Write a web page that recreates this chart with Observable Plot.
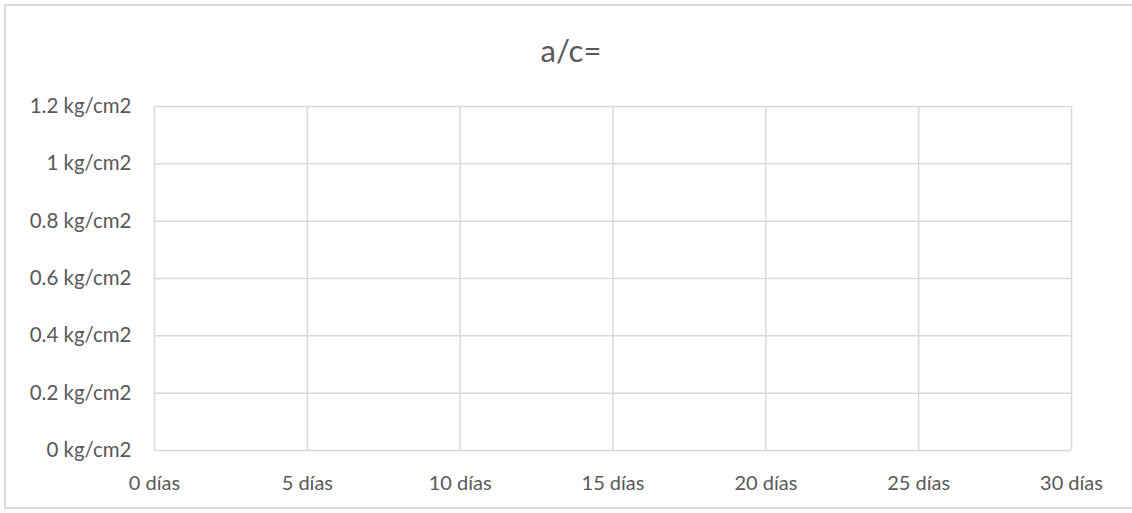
<!DOCTYPE html>
<html>
<head>
<meta charset="utf-8">
<script src="https://cdn.jsdelivr.net/npm/d3@7"></script>
<script src="https://cdn.jsdelivr.net/npm/@observablehq/plot@0.6"></script>
<style>
  html, body { margin: 0; padding: 0; background: #fff; overflow: hidden; }
  #wrap { position: relative; width: 1132px; height: 513px; overflow: hidden; }
  #frame { position: absolute; left: 4px; top: 4px; width: 1200px; height: 505px; border: 2px solid #d9d9d9; border-right: none; pointer-events: none; box-sizing: border-box; }
  svg { display: block; }
</style>
</head>
<body>
<div id="wrap"><div id="frame"></div></div>
<script>
const title = "a/c=";
const xTicks = [0, 5, 10, 15, 20, 25, 30];
const yTicks = [0, 0.2, 0.4, 0.6, 0.8, 1, 1.2];
const xUnit = "días";
const yUnit = "kg/cm2";

const grid = "#d9d9d9";
const textColor = "#595959";

const chart = Plot.plot({
  width: 1132,
  height: 513,
  marginLeft: 154,
  marginRight: 61,
  marginTop: 106,
  marginBottom: 63,
  style: { fontFamily: "Lato, 'Open Sans', sans-serif", fontSize: "20px", color: textColor, background: "transparent" },
  x: { domain: [0, 30], ticks: xTicks, tickFormat: d => `${d} ${xUnit}`, tickSize: 0, tickPadding: 25, label: null },
  y: { domain: [0, 1.2], ticks: yTicks, tickFormat: d => `${d} ${yUnit}`, tickSize: 0, tickPadding: 23, label: null },
  marks: [
    Plot.gridX(xTicks, { stroke: grid, strokeOpacity: 1, strokeWidth: 1.5 }),
    Plot.gridY(yTicks, { stroke: grid, strokeOpacity: 1, strokeWidth: 1.5 }),
    Plot.axisX(xTicks, { tickSize: 0, tickPadding: 25, tickFormat: d => `${d} ${xUnit}`, fill: textColor, fontSize: 20 }),
    Plot.axisY(yTicks, { tickSize: 0, tickPadding: 23, tickFormat: d => `${d} ${yUnit}`, fill: textColor, fontSize: 20.5 }),
    Plot.text([title], { frameAnchor: "top", lineAnchor: "middle", dx: -42, dy: -54, text: d => d, fontSize: 31, fill: textColor })
  ]
});
document.getElementById("wrap").prepend(chart);
</script>
</body>
</html>
